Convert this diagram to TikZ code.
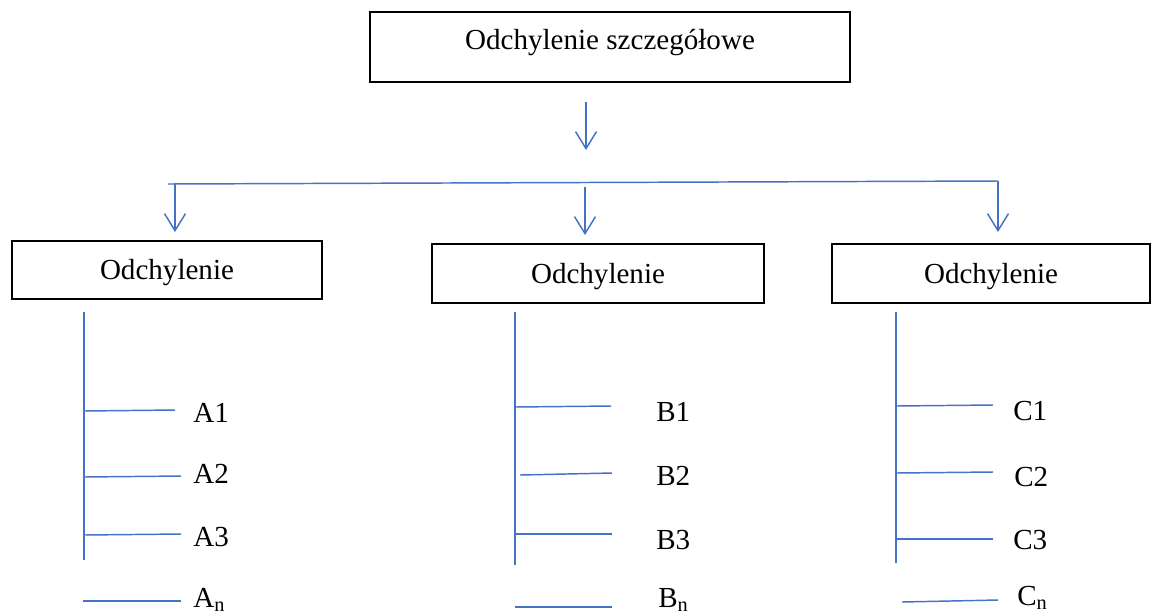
\documentclass[tikz,border=0pt]{standalone}
\usepackage{fontspec}
\setmainfont{Liberation Serif}
\usetikzlibrary{arrows.meta}
\definecolor{lblue}{HTML}{4472C4}
\begin{document}
\begin{tikzpicture}[x=0.75pt,y=-0.75pt,
  every node/.style={font=\fontsize{21.8}{26}\selectfont},
  box/.style={draw=black, line width=1.5pt, inner sep=0pt, text height=14.4pt, text depth=0pt},
  ln/.style={draw=lblue, line width=1.1pt},
  arr/.style={ln, -{Straight Barb[length=12.75pt,width=15.75pt]}},
  lab/.style={anchor=west, inner sep=0pt, text height=14.4pt, text depth=0pt}]
\useasboundingbox (0,0) rectangle (1152,615);

% boxes
\node[box, minimum width=360pt, minimum height=52.5pt, text depth=10.5pt] (top) at (610,47) {Odchylenie szczegółowe};
\node[box, minimum width=232.5pt, minimum height=43.5pt] (bA) at (167,270) {Odchylenie};
\node[box, minimum width=249pt, minimum height=44.25pt] (bB) at (598,273.5) {Odchylenie};
\node[box, minimum width=238.5pt, minimum height=44.25pt] (bC) at (991,273.5) {Odchylenie};

% connectors from top
\coordinate (t1) at (586,102);
\coordinate (t2) at (586,150);
\draw[arr] (t1) -- (t2);
\coordinate (busL) at (168,184);
\coordinate (busR) at (998,181);
\draw[ln] (busL) -- (busR);
\coordinate (aS) at (175,184);
\coordinate (aE) at (175,232);
\coordinate (mS) at (585,187);
\coordinate (mE) at (585,235);
\coordinate (cE) at (998,232);
\draw[arr] (aS) -- (aE);
\draw[arr] (mS) -- (mE);
\draw[arr] (busR) -- (cE);

% labels
\node[lab] (A1) at (193,412.5) {A1};
\node[lab] (A2) at (193,474) {A2};
\node[lab] (A3) at (193,537) {A3};
\node[lab] (An) at (193,598) {A\textsubscript{n}};
\node[lab] (B1) at (656,412) {B1};
\node[lab] (B2) at (656,476) {B2};
\node[lab] (B3) at (656,540) {B3};
\node[lab] (Bn) at (658,598) {B\textsubscript{n}};
\node[lab] (C1) at (1013,411) {C1};
\node[lab] (C2) at (1014,477) {C2};
\node[lab] (C3) at (1013,540) {C3};
\node[lab] (Cn) at (1017,596) {C\textsubscript{n}};

% column A
\coordinate (vA1) at (84,312); \coordinate (vA2) at (84,560);
\draw[ln] (vA1) -- (vA2);
\coordinate (a1s) at (84,411); \coordinate (a1e) at (175,410);
\coordinate (a2s) at (84,477); \coordinate (a2e) at (181,476);
\coordinate (a3s) at (84,535); \coordinate (a3e) at (181,534);
\coordinate (ans) at (83,601); \coordinate (ane) at (181,601);
\draw[ln] (a1s) -- (a1e);
\draw[ln] (a2s) -- (a2e);
\draw[ln] (a3s) -- (a3e);
\draw[ln] (ans) -- (ane);

% column B
\coordinate (vB1) at (515,312); \coordinate (vB2) at (515,565);
\draw[ln] (vB1) -- (vB2);
\coordinate (b1s) at (515,407); \coordinate (b1e) at (611,406);
\coordinate (b2s) at (520,475); \coordinate (b2e) at (612,473);
\coordinate (b3s) at (515,534); \coordinate (b3e) at (612,534);
\coordinate (bns) at (515,607); \coordinate (bne) at (612,607);
\draw[ln] (b1s) -- (b1e);
\draw[ln] (b2s) -- (b2e);
\draw[ln] (b3s) -- (b3e);
\draw[ln] (bns) -- (bne);

% column C
\coordinate (vC1) at (896,312); \coordinate (vC2) at (896,563);
\draw[ln] (vC1) -- (vC2);
\coordinate (c1s) at (896,406); \coordinate (c1e) at (993,405);
\coordinate (c2s) at (896,473); \coordinate (c2e) at (993,472);
\coordinate (c3s) at (896,539); \coordinate (c3e) at (993,539);
\coordinate (cns) at (902,602); \coordinate (cne) at (998,600);
\draw[ln] (c1s) -- (c1e);
\draw[ln] (c2s) -- (c2e);
\draw[ln] (c3s) -- (c3e);
\draw[ln] (cns) -- (cne);
\end{tikzpicture}
\end{document}
